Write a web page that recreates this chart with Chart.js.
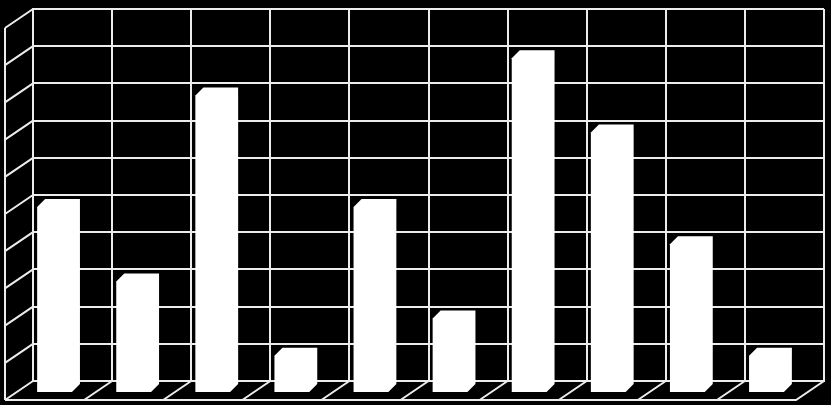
<!DOCTYPE html>
<html>
<head>
<meta charset="utf-8">
<script src="https://cdn.jsdelivr.net/npm/chart.js@4/dist/chart.umd.min.js"></script>
<style>
  html, body { margin: 0; padding: 0; background: #000; }
  #wrap { width: 831px; height: 405px; }
</style>
</head>
<body>
<div id="wrap"><canvas id="bar-chartcanvas"></canvas></div>
<script>

var categories = ["1", "2", "3", "4", "5", "6", "7", "8", "9", "10"];
var values = [5, 3, 8, 1, 5, 2, 9, 7, 4, 1];
var yMin = 0;
var yMax = 10;
var yStep = 1;

// oblique depth of the walls and of the boxes
var wallDX = -28, wallDY = 19;
var frontDX = -18, frontDY = 12;
var boxDepth = 8;
var lineColor = "#ececec";

var box3d = {
	id : "box3d",
	beforeDatasetsDraw : function (chart) {
		var ctx = chart.ctx;
		var area = chart.chartArea;
		var xs = chart.scales.x;
		var ys = chart.scales.y;
		ctx.save();
		ctx.strokeStyle = lineColor;
		ctx.lineWidth = 2;
		ctx.beginPath();
		// side wall
		ctx.moveTo(area.left + wallDX, area.top + wallDY);
		ctx.lineTo(area.left + wallDX, area.bottom + wallDY);
		ys.ticks.forEach(function (t) {
			var y = ys.getPixelForValue(t.value);
			ctx.moveTo(area.left, y);
			ctx.lineTo(area.left + wallDX, y + wallDY);
		});
		// floor
		ctx.moveTo(area.left + wallDX, area.bottom + wallDY);
		ctx.lineTo(area.right + wallDX, area.bottom + wallDY);
		ctx.lineTo(area.right, area.bottom);
		for (var i = 0; i <= categories.length; i++) {
			var x = xs.getPixelForValue(i - 0.5);
			ctx.moveTo(x, area.bottom);
			ctx.lineTo(x + wallDX, area.bottom + wallDY);
		}
		ctx.stroke();
		ctx.restore();
	},
	afterDatasetsDraw : function (chart) {
		var ctx = chart.ctx;
		var meta = chart.getDatasetMeta(0);
		ctx.save();
		ctx.fillStyle = "#ffffff";
		meta.data.forEach(function (bar) {
			var half = bar.width / 2;
			var l = bar.x + frontDX - half;
			var r = bar.x + frontDX + half;
			var t = bar.y + frontDY;
			var b = bar.base + frontDY;
			ctx.beginPath();
			ctx.moveTo(l, b);
			ctx.lineTo(l, t);
			ctx.lineTo(l + boxDepth, t - boxDepth);
			ctx.lineTo(r + boxDepth, t - boxDepth);
			ctx.lineTo(r + boxDepth, b - boxDepth);
			ctx.lineTo(r, b);
			ctx.closePath();
			ctx.fill();
		});
		ctx.restore();
	}
};

var data = {
	labels : categories,
	datasets : [
		{
			data : values,
			backgroundColor : "rgba(0,0,0,0)",
			borderWidth : 0,
			barPercentage : 0.44,
			categoryPercentage : 1
		}
	]
};

var options = {
	responsive : true,
	maintainAspectRatio : false,
	animation : false,
	devicePixelRatio : 1,
	layout : {
		padding : { left : 33, right : 7, top : 9, bottom : 24 }
	},
	plugins : {
		legend : { display : false },
		tooltip : { enabled : false }
	},
	scales : {
		x : {
			ticks : { display : false },
			grid : { color : lineColor, lineWidth : 2, drawTicks : false, offset : true },
			border : { display : true, color : lineColor, width : 2 }
		},
		y : {
			min : yMin,
			max : yMax,
			ticks : { display : false, stepSize : yStep },
			grid : { color : lineColor, lineWidth : 2, drawTicks : false },
			border : { display : true, color : lineColor, width : 2 }
		}
	}
};

var chart = new Chart(document.getElementById("bar-chartcanvas"), {
	type : "bar",
	data : data,
	options : options,
	plugins : [box3d]
});

</script>
</body>
</html>
